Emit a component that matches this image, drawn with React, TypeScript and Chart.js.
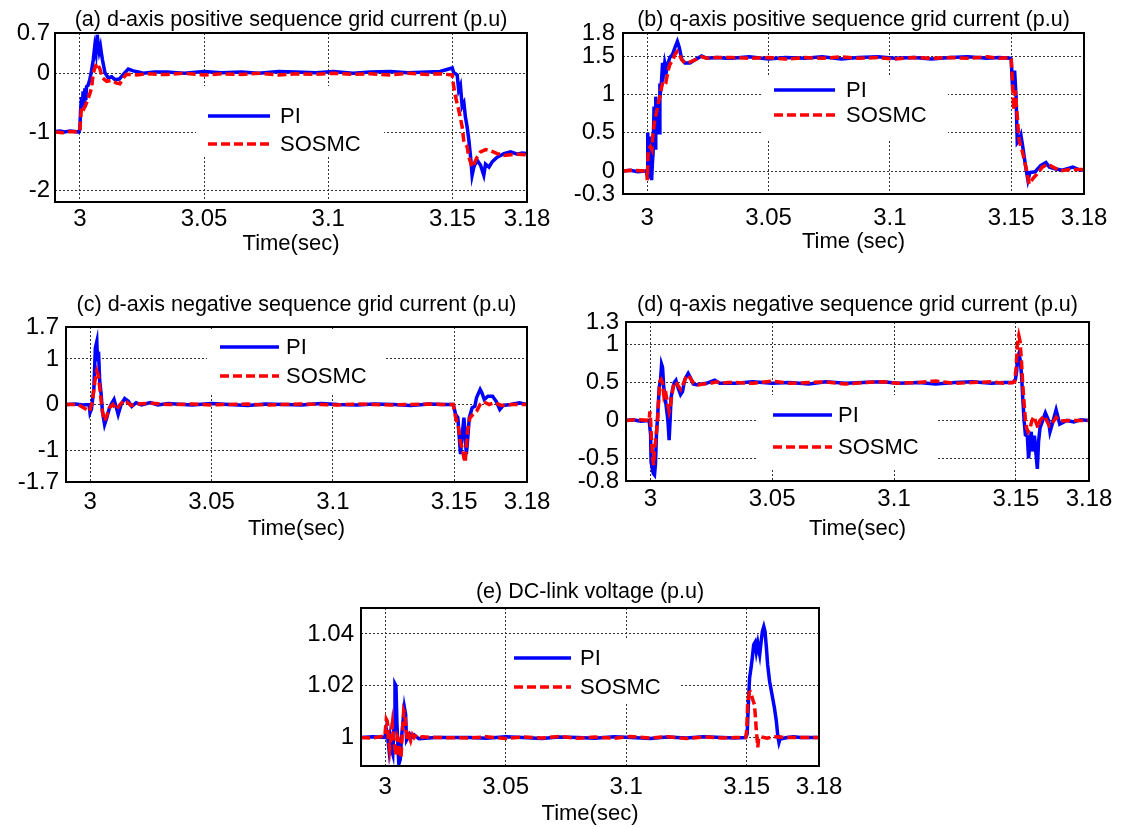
import React, { useEffect, useRef } from "react";
import { Chart, registerables } from "chart.js";

Chart.register(...registerables);

const FONT = "'Liberation Sans', Arial, Helvetica, sans-serif";

// ---- shared axis data ----
const X_TICKS = [3, 3.05, 3.1, 3.15, 3.18];
const STEADY_T = [3.035, 3.042, 3.05, 3.057, 3.065, 3.072, 3.08, 3.087, 3.095, 3.102, 3.11, 3.117, 3.125, 3.132, 3.14, 3.145];

// ---- (a) d-axis positive sequence ----
const A_Y_TICKS = [-2, -1, 0, 0.7];
const A_PI_START_T = [2.99, 2.992, 2.994, 2.996, 2.998, 2.9996, 3.0, 3.0003, 3.0007, 3.001, 3.0013, 3.0017, 3.002, 3.0024, 3.0027, 3.0033, 3.004, 3.0047, 3.0054, 3.006, 3.0065, 3.007, 3.0074, 3.0078, 3.0083, 3.0087, 3.0091, 3.0101, 3.0114, 3.0128, 3.0141, 3.0159, 3.0175, 3.0195, 3.0215, 3.0235, 3.0255, 3.03];
const A_PI_START_V = [-0.99, -0.98, -1.0, -0.98, -0.99, -1.0, -0.95, -0.62, -0.4, -0.58, -0.3, -0.55, -0.25, -0.45, -0.22, -0.2, -0.1, 0.05, 0.24, 0.47, 0.35, 0.67, 0.5, 0.38, 0.47, 0.35, 0.24, 0.02, -0.07, -0.05, -0.1, -0.09, -0.01, 0.08, 0.05, 0.03, 0.01, 0.03];
const A_PI_STEADY = [0.03, 0.01, 0.04, 0.02, 0.03, 0.01, 0.04, 0.03, 0.02, 0.04, 0.01, 0.03, 0.04, 0.02, 0.03, 0.04];
const A_PI_END_T = [3.1499, 3.1505, 3.1512, 3.1519, 3.1525, 3.1532, 3.1539, 3.1546, 3.1552, 3.1559, 3.1566, 3.1573, 3.1579, 3.1586, 3.1599, 3.1613, 3.1626, 3.1633, 3.1647, 3.166, 3.168, 3.1707, 3.1734, 3.1761, 3.178, 3.18];
const A_PI_END_V = [0.1, 0.02, 0.0, -0.02, -0.28, -0.2, -0.56, -0.5, -0.74, -0.91, -1.14, -1.43, -1.74, -1.6, -1.48, -1.57, -1.74, -1.55, -1.6, -1.51, -1.43, -1.37, -1.34, -1.38, -1.36, -1.37];
const A_SM_START_T = [2.99, 2.993, 2.996, 2.9995, 3.0, 3.0003, 3.0007, 3.0016, 3.0024, 3.0034, 3.0047, 3.0054, 3.0063, 3.007, 3.0081, 3.0091, 3.0108, 3.0128, 3.0148, 3.0161, 3.0175, 3.0188, 3.0229, 3.0269, 3.031];
const A_SM_START_V = [-1.0, -1.01, -0.99, -1.0, -0.98, -0.79, -0.56, -0.6, -0.53, -0.42, -0.25, 0.01, 0.13, 0.18, 0.08, -0.07, -0.13, -0.11, -0.16, -0.17, -0.07, -0.01, -0.02, 0.0, -0.01];
const A_SM_STEADY = [-0.01, 0.01, -0.02, 0.0, -0.01, 0.01, -0.02, 0.0, -0.01, 0.01, -0.01, 0.0, -0.02, 0.01, -0.01, 0.0];
const A_SM_END_T = [3.1499, 3.1505, 3.1512, 3.1525, 3.1532, 3.1539, 3.1546, 3.1552, 3.1559, 3.1566, 3.1579, 3.1586, 3.1599, 3.1613, 3.1633, 3.1653, 3.168, 3.1707, 3.1734, 3.1761, 3.18];
const A_SM_END_V = [-0.02, -0.22, -0.39, -0.62, -0.76, -0.91, -1.17, -1.2, -1.25, -1.43, -1.6, -1.55, -1.43, -1.34, -1.3, -1.32, -1.37, -1.4, -1.39, -1.38, -1.39];

// ---- (b) q-axis positive sequence ----
const B_Y_TICKS = [-0.3, 0, 0.5, 1, 1.5, 1.8];
const B_PI_START_T = [2.99, 2.993, 2.996, 2.9997, 3.0, 3.0002, 3.0005, 3.0008, 3.0011, 3.0015, 3.0018, 3.0021, 3.0024, 3.0028, 3.0032, 3.0035, 3.0038, 3.0041, 3.0045, 3.0049, 3.0052, 3.0055, 3.0059, 3.0063, 3.0068, 3.0072, 3.0079, 3.0086, 3.0093, 3.0104, 3.0114, 3.0124, 3.0132, 3.0142, 3.0155, 3.0176, 3.0197, 3.0224, 3.0245, 3.0287, 3.0325];
const B_PI_START_V = [0.0, 0.01, -0.01, 0.0, -0.06, 0.5, 0.1, 0.45, -0.1, 0.2, -0.12, 0.1, 0.23, 0.84, 0.3, 0.97, 0.6, 0.5, 0.87, 0.5, 1.14, 1.05, 1.18, 1.41, 1.3, 1.41, 1.3, 1.41, 1.48, 1.52, 1.61, 1.69, 1.61, 1.46, 1.41, 1.41, 1.45, 1.5, 1.47, 1.48, 1.47];
const B_PI_STEADY = [1.47, 1.49, 1.46, 1.48, 1.47, 1.49, 1.46, 1.48, 1.49, 1.47, 1.48, 1.46, 1.48, 1.49, 1.47, 1.48];
const B_PI_END_T = [3.1495, 3.15, 3.1506, 3.1511, 3.1514, 3.152, 3.1525, 3.1532, 3.154, 3.1547, 3.1559, 3.1569, 3.1577, 3.1599, 3.1621, 3.1643, 3.1658, 3.168, 3.171, 3.1754, 3.1776, 3.18];
const B_PI_END_V = [1.47, 1.46, 1.05, 1.2, 1.31, 0.97, 0.37, 0.4, 0.47, 0.33, 0.07, -0.12, -0.02, -0.01, 0.07, 0.11, 0.05, 0.03, 0.01, 0.05, 0.02, 0.01];
const B_SM_START_T = [2.99, 2.994, 2.9998, 3.0, 3.0004, 3.0013, 3.0019, 3.0024, 3.0031, 3.0038, 3.0045, 3.0052, 3.0059, 3.0066, 3.0077, 3.0086, 3.0093, 3.0104, 3.0114, 3.0124, 3.0132, 3.0142, 3.0155, 3.0176, 3.0197, 3.0224, 3.0245, 3.0287, 3.033];
const B_SM_START_V = [0.0, 0.01, 0.0, -0.12, 0.28, 0.32, 0.28, 0.5, 0.67, 0.76, 0.88, 0.97, 1.09, 1.18, 1.16, 1.31, 1.39, 1.44, 1.52, 1.56, 1.52, 1.45, 1.41, 1.42, 1.45, 1.49, 1.47, 1.48, 1.48];
const B_SM_STEADY = [1.48, 1.47, 1.48, 1.46, 1.48, 1.47, 1.49, 1.47, 1.48, 1.46, 1.48, 1.47, 1.48, 1.47, 1.49, 1.47];
const B_SM_END_T = [3.1495, 3.15, 3.1506, 3.151, 3.1517, 3.1525, 3.1532, 3.1547, 3.1562, 3.1574, 3.1589, 3.1606, 3.1628, 3.1651, 3.1673, 3.1703, 3.1739, 3.18];
const B_SM_END_V = [1.48, 1.46, 1.14, 0.8, 1.05, 0.71, 0.41, 0.24, 0.03, -0.17, -0.1, -0.04, 0.05, 0.09, 0.05, 0.0, 0.02, 0.02];

// ---- (c) d-axis negative sequence ----
const C_Y_TICKS = [-1.7, -1, 0, 1, 1.7];
const C_PI_START_T = [2.99, 2.994, 2.997, 2.9995, 2.9999, 3.0005, 3.0015, 3.0021, 3.0027, 3.003, 3.0034, 3.0039, 3.0045, 3.005, 3.0059, 3.0068, 3.0079, 3.0089, 3.0098, 3.0108, 3.0115, 3.0127, 3.0142, 3.0157, 3.0171, 3.0189, 3.0211, 3.0248, 3.0278, 3.0322];
const C_PI_START_V = [0.0, 0.01, -0.01, 0.0, -0.18, -0.1, 0.36, 1.24, 1.38, 0.95, 1.16, 0.51, 0.22, -0.15, -0.44, -0.29, -0.08, 0.03, 0.11, -0.08, -0.22, 0.0, 0.13, 0.07, -0.04, 0.04, -0.01, 0.04, -0.01, 0.02];
const C_PI_STEADY = [0.01, -0.01, 0.02, 0.0, -0.02, 0.01, 0.0, -0.01, 0.02, 0.0, -0.01, 0.01, 0.0, -0.02, 0.01, 0.0];
const C_PI_END_T = [3.1496, 3.1506, 3.1515, 3.1521, 3.1526, 3.1533, 3.154, 3.1545, 3.155, 3.1555, 3.1562, 3.1574, 3.1585, 3.1592, 3.1607, 3.1614, 3.1624, 3.1639, 3.1658, 3.1673, 3.1688, 3.1702, 3.1732, 3.1769, 3.18];
const C_PI_END_V = [0.0, -0.22, -0.29, -0.73, -1.09, -0.66, -0.29, -0.66, -1.09, -0.8, -0.29, -0.07, -0.04, 0.15, 0.33, 0.26, 0.11, 0.18, 0.18, 0.07, -0.11, -0.02, 0.0, 0.04, 0.0];
const C_SM_START_T = [2.99, 2.995, 2.9997, 3.0009, 3.0019, 3.0027, 3.0034, 3.0042, 3.005, 3.0059, 3.0068, 3.0079, 3.0093, 3.0108, 3.0123, 3.0138, 3.0152, 3.0167, 3.0189, 3.0248, 3.032];
const C_SM_START_V = [0.0, 0.0, -0.15, 0.07, 0.51, 0.73, 0.62, 0.22, -0.15, -0.36, -0.25, -0.07, 0.0, -0.11, 0.0, 0.09, 0.05, -0.02, 0.01, 0.03, 0.0];
const C_SM_STEADY = [0.0, 0.01, -0.01, 0.0, 0.01, -0.01, 0.0, 0.01, 0.0, -0.01, 0.01, 0.0, -0.01, 0.0, 0.01, 0.0];
const C_SM_END_T = [3.1496, 3.1506, 3.1518, 3.1526, 3.1533, 3.154, 3.1545, 3.155, 3.1555, 3.1565, 3.1577, 3.1592, 3.1607, 3.1621, 3.1644, 3.1666, 3.1695, 3.174, 3.18];
const C_SM_END_V = [0.0, -0.29, -0.51, -0.84, -0.95, -1.17, -1.27, -0.95, -0.58, -0.29, -0.22, -0.15, 0.0, 0.06, 0.0, 0.04, -0.02, 0.0, 0.0];

// ---- (d) q-axis negative sequence ----
const D_Y_TICKS = [-0.8, -0.5, 0, 0.5, 1, 1.3];
const D_PI_START_T = [2.99, 2.993, 2.996, 2.9995, 3.0001, 3.0003, 3.0008, 3.0012, 3.0017, 3.0021, 3.0025, 3.0031, 3.0036, 3.0042, 3.0046, 3.005, 3.0055, 3.0061, 3.0066, 3.0072, 3.0077, 3.0081, 3.0085, 3.0091, 3.0098, 3.0105, 3.0114, 3.0124, 3.0132, 3.0141, 3.0155, 3.0165, 3.0176, 3.0189, 3.021, 3.023, 3.0264, 3.0285, 3.0312];
const D_PI_START_V = [0.0, 0.01, -0.01, 0.0, -0.19, -0.55, -0.64, -0.7, -0.72, -0.57, -0.19, 0.12, 0.43, 0.54, 0.74, 0.7, 0.43, 0.3, 0.16, 0.0, -0.26, 0.0, 0.3, 0.41, 0.5, 0.53, 0.43, 0.34, 0.38, 0.54, 0.62, 0.56, 0.48, 0.47, 0.48, 0.49, 0.53, 0.49, 0.49];
const D_PI_STEADY = [0.49, 0.51, 0.49, 0.5, 0.48, 0.51, 0.49, 0.5, 0.51, 0.49, 0.5, 0.48, 0.5, 0.51, 0.49, 0.5];
const D_PI_END_T = [3.1487, 3.1498, 3.1503, 3.1507, 3.1512, 3.1517, 3.1523, 3.1528, 3.1534, 3.1539, 3.1547, 3.1552, 3.1558, 3.1563, 3.1569, 3.1576, 3.1583, 3.1588, 3.1593, 3.1599, 3.161, 3.1621, 3.1634, 3.164, 3.1648, 3.1665, 3.168, 3.1709, 3.1738, 3.1767, 3.18];
const D_PI_END_V = [0.5, 0.54, 0.65, 0.83, 0.88, 0.81, 0.61, 0.3, -0.01, -0.19, -0.21, -0.5, -0.28, -0.15, -0.41, -0.2, -0.46, -0.64, -0.28, -0.1, 0.0, 0.1, 0.0, -0.15, -0.06, 0.14, -0.05, 0.0, -0.02, 0.01, 0.0];
const D_SM_START_T = [2.99, 2.994, 2.9995, 2.9998, 3.0001, 3.0005, 3.0009, 3.0013, 3.0017, 3.0021, 3.0025, 3.003, 3.0033, 3.0039, 3.0044, 3.005, 3.0055, 3.0061, 3.0069, 3.0077, 3.0083, 3.0088, 3.0096, 3.0105, 3.0114, 3.0124, 3.0135, 3.0146, 3.0155, 3.0165, 3.0178, 3.0196, 3.0217, 3.0244, 3.0271, 3.0292, 3.0315];
const D_SM_START_V = [0.0, 0.01, 0.0, 0.12, 0.0, -0.28, -0.46, -0.59, -0.39, -0.28, -0.15, 0.03, 0.21, 0.52, 0.54, 0.49, 0.34, 0.41, 0.25, 0.12, 0.21, 0.33, 0.48, 0.51, 0.46, 0.41, 0.48, 0.57, 0.6, 0.55, 0.49, 0.47, 0.48, 0.49, 0.51, 0.49, 0.5];
const D_SM_STEADY = [0.5, 0.49, 0.52, 0.49, 0.5, 0.51, 0.48, 0.5, 0.51, 0.49, 0.5, 0.52, 0.49, 0.5, 0.51, 0.49];
const D_SM_END_T = [3.1487, 3.1495, 3.1501, 3.1506, 3.1512, 3.1517, 3.1523, 3.1528, 3.1534, 3.1539, 3.1544, 3.155, 3.1558, 3.1566, 3.1574, 3.1583, 3.1591, 3.1599, 3.1607, 3.1617, 3.1626, 3.1637, 3.1651, 3.1665, 3.168, 3.172, 3.18];
const D_SM_END_V = [0.5, 0.51, 0.7, 1.01, 1.12, 1.05, 0.77, 0.48, 0.21, 0.01, -0.1, -0.15, -0.1, 0.0, 0.05, -0.03, -0.1, 0.0, 0.03, 0.06, 0.0, -0.07, -0.03, 0.04, -0.01, 0.0, 0.0];

// ---- (e) DC-link voltage ----
const E_Y_TICKS = [1, 1.02, 1.04];
const E_PI_START_T = [2.99, 2.995, 2.9999, 3.0005, 3.001, 3.0016, 3.0021, 3.0027, 3.0032, 3.0037, 3.0041, 3.0045, 3.0049, 3.0053, 3.0057, 3.0063, 3.0068, 3.0074, 3.008, 3.0085, 3.0089, 3.0095, 3.0102, 3.011, 3.012, 3.014, 3.0209];
const E_PI_START_V = [1.0, 1.0003, 1.0, 1.0032, 1.0007, 0.9955, 1.0, 0.9952, 0.9935, 1.0058, 1.0207, 1.02, 1.0058, 0.9968, 0.9897, 0.9916, 1.0, 1.0058, 1.0116, 1.009, 0.999, 1.0, 1.0013, 1.0, 1.001, 0.9995, 1.0];
const E_PI_STEADY = [1.0, 0.9997, 1.0003, 1.0, 0.9996, 1.0002, 1.0, 0.9997, 1.0003, 1.0, 0.9996, 1.0002, 0.9998, 1.0003, 1.0, 0.9998];
const E_PI_END_T = [3.1495, 3.1502, 3.1507, 3.1512, 3.1518, 3.1524, 3.1529, 3.1535, 3.154, 3.1546, 3.155, 3.1554, 3.156, 3.1565, 3.1571, 3.1576, 3.1582, 3.1587, 3.1595, 3.1605, 3.1615, 3.1623, 3.1629, 3.1634, 3.164, 3.1647, 3.1668, 3.1695, 3.1723, 3.18];
const E_PI_END_V = [1.0, 1.0013, 1.0128, 1.023, 1.0268, 1.0313, 1.0358, 1.0368, 1.0332, 1.0364, 1.034, 1.032, 1.037, 1.0409, 1.0428, 1.041, 1.0345, 1.0281, 1.0217, 1.0166, 1.0115, 1.0064, 1.0006, 0.9981, 1.0, 0.9996, 1.0, 1.0003, 1.0, 1.0];
const E_SM_START_T = [2.99, 2.995, 2.9999, 3.0005, 3.0009, 3.0013, 3.0019, 3.0024, 3.003, 3.0035, 3.0041, 3.0046, 3.0052, 3.0057, 3.0061, 3.0066, 3.0071, 3.0077, 3.0082, 3.0088, 3.0093, 3.0099, 3.0106, 3.0113, 3.012, 3.0126, 3.014, 3.0154, 3.0209];
const E_SM_START_V = [1.0, 0.9998, 1.0006, 1.0071, 1.0064, 1.0, 0.9955, 1.0, 1.0052, 1.0006, 0.9955, 0.9929, 1.0, 0.9987, 0.994, 0.9922, 1.0006, 1.0103, 1.009, 1.002, 0.9987, 1.0006, 0.9987, 1.001, 0.9999, 1.0006, 0.9997, 1.0003, 1.0];
const E_SM_STEADY = [0.9998, 1.0003, 0.9996, 1.0002, 0.9998, 1.0004, 0.9997, 1.0002, 0.9997, 1.0004, 0.9998, 1.0003, 0.9996, 1.0002, 0.9998, 1.0];
const E_SM_END_T = [3.1496, 3.15, 3.1504, 3.151, 3.1515, 3.1521, 3.1527, 3.1532, 3.1536, 3.154, 3.1546, 3.155, 3.1557, 3.1585, 3.1612, 3.1668, 3.1723, 3.18];
const E_SM_END_V = [1.0, 1.0026, 1.0128, 1.0173, 1.0176, 1.016, 1.0141, 1.0128, 1.0083, 1.0026, 0.9962, 1.0, 1.0003, 0.9997, 1.0003, 1.0, 1.0, 1.0];

// ---- helpers ----
function zip(t: number[], v: number[]) {
  return t.map((x, i) => ({ x, y: v[i] }));
}
function series(st: number[], sv: number[], steady: number[], et: number[], ev: number[]) {
  return [...zip(st, sv), ...zip(STEADY_T, steady), ...zip(et, ev)];
}

type PanelCfg = {
  title: string;
  xTitle: string;
  L: number; T: number; R: number; B: number;
  yMin: number; yMax: number; yTicks: number[];
  titleGap: number; tickPad: number; xH: number; yPad: number;
  pi: { x: number; y: number }[];
  sm: { x: number; y: number }[];
  legend: { box: number[]; rows: number[]; line: number[]; text: number };
};

const PANELS: PanelCfg[] = [
  {
    title: "(a) d-axis positive sequence grid current (p.u)", xTitle: "Time(sec)",
    L: 55, T: 33, R: 527, B: 202, yMin: -2.2, yMax: 0.7, yTicks: A_Y_TICKS,
    titleGap: 13, tickPad: 3, xH: 55, yPad: 5,
    pi: series(A_PI_START_T, A_PI_START_V, A_PI_STEADY, A_PI_END_T, A_PI_END_V),
    sm: series(A_SM_START_T, A_SM_START_V, A_SM_STEADY, A_SM_END_T, A_SM_END_V),
    legend: { box: [196, 86, 384, 157], rows: [116, 144], line: [208, 270], text: 280 },
  },
  {
    title: "(b) q-axis positive sequence grid current (p.u)", xTitle: "Time (sec)",
    L: 623, T: 33, R: 1084, B: 194, yMin: -0.3, yMax: 1.8, yTicks: B_Y_TICKS,
    titleGap: 13, tickPad: 10, xH: 61, yPad: 8,
    pi: series(B_PI_START_T, B_PI_START_V, B_PI_STEADY, B_PI_END_T, B_PI_END_V),
    sm: series(B_SM_START_T, B_SM_START_V, B_SM_STEADY, B_SM_END_T, B_SM_END_V),
    legend: { box: [761, 75, 948, 140], rows: [90, 115], line: [774, 835], text: 846 },
  },
  {
    title: "(c) d-axis negative sequence grid current (p.u)", xTitle: "Time(sec)",
    L: 66, T: 327, R: 527, B: 482, yMin: -1.7, yMax: 1.7, yTicks: C_Y_TICKS,
    titleGap: 22, tickPad: 6, xH: 60, yPad: 7,
    pi: series(C_PI_START_T, C_PI_START_V, C_PI_STEADY, C_PI_END_T, C_PI_END_V),
    sm: series(C_SM_START_T, C_SM_START_V, C_SM_STEADY, C_SM_END_T, C_SM_END_V),
    legend: { box: [207, 331, 386, 395], rows: [347, 376], line: [220, 279], text: 286 },
  },
  {
    title: "(d) q-axis negative sequence grid current (p.u)", xTitle: "Time(sec)",
    L: 626, T: 322, R: 1089, B: 481, yMin: -0.8, yMax: 1.3, yTicks: D_Y_TICKS,
    titleGap: 17, tickPad: 4, xH: 61, yPad: 7,
    pi: series(D_PI_START_T, D_PI_START_V, D_PI_STEADY, D_PI_END_T, D_PI_END_V),
    sm: series(D_SM_START_T, D_SM_START_V, D_SM_STEADY, D_SM_END_T, D_SM_END_V),
    legend: { box: [758, 395, 937, 470], rows: [415, 447], line: [773, 832], text: 838 },
  },
  {
    title: "(e) DC-link voltage (p.u)", xTitle: "Time(sec)",
    L: 361, T: 608, R: 819, B: 766, yMin: 0.989, yMax: 1.05, yTicks: E_Y_TICKS,
    titleGap: 16, tickPad: 7, xH: 61, yPad: 7,
    pi: series(E_PI_START_T, E_PI_START_V, E_PI_STEADY, E_PI_END_T, E_PI_END_V),
    sm: series(E_SM_START_T, E_SM_START_V, E_SM_STEADY, E_SM_END_T, E_SM_END_V),
    legend: { box: [509, 640, 680, 702], rows: [658, 687], line: [514, 571], text: 580 },
  },
];

const Y_AXIS_W = 55;
const RIGHT_PAD = 55;
const TOP_PAD = 34;
const TITLE_SIZE = 21.5;
const TICK_SIZE = 24;
const AXIS_TITLE_SIZE = 22;
const LEGEND_SIZE = 22;

function Panel({ cfg }: { cfg: PanelCfg }) {
  const ref = useRef<HTMLCanvasElement | null>(null);
  const left = cfg.L - Y_AXIS_W;
  const top = cfg.T - TOP_PAD;
  const width = cfg.R - cfg.L + Y_AXIS_W + RIGHT_PAD;
  const height = TOP_PAD + (cfg.B - cfg.T) + cfg.xH;

  useEffect(() => {
    if (!ref.current) return;
    const lg = cfg.legend;
    const overlay = {
      id: "matlabOverlay",
      afterDatasetsDraw(chart: any) {
        const { ctx, chartArea } = chart;
        const ox = chartArea.left - cfg.L;
        const oy = chartArea.top - cfg.T;
        ctx.save();
        // legend box
        ctx.fillStyle = "#ffffff";
        ctx.fillRect(lg.box[0] + ox, lg.box[1] + oy, lg.box[2] - lg.box[0], lg.box[3] - lg.box[1]);
        chart.data.datasets.forEach((ds: any, i: number) => {
          const y = lg.rows[i] + oy;
          ctx.strokeStyle = ds.borderColor;
          ctx.lineWidth = ds.borderWidth;
          ctx.setLineDash(ds.borderDash || []);
          ctx.beginPath();
          ctx.moveTo(lg.line[0] + ox, y);
          ctx.lineTo(lg.line[1] + ox, y);
          ctx.stroke();
          ctx.setLineDash([]);
          ctx.fillStyle = "#000";
          ctx.font = `${LEGEND_SIZE}px ${FONT}`;
          ctx.textBaseline = "middle";
          ctx.textAlign = "left";
          ctx.fillText(ds.label, lg.text + ox, y + 1);
        });
        // plot frame
        ctx.strokeStyle = "#000";
        ctx.lineWidth = 2;
        ctx.strokeRect(chartArea.left, chartArea.top, chartArea.right - chartArea.left, chartArea.bottom - chartArea.top);
        // title centred over the plot area
        ctx.fillStyle = "#000";
        ctx.font = `${TITLE_SIZE}px ${FONT}`;
        ctx.textAlign = "center";
        ctx.textBaseline = "middle";
        ctx.fillText(cfg.title, (chartArea.left + chartArea.right) / 2, chartArea.top - cfg.titleGap);
        ctx.restore();
      },
    };

    const gridOpts = { color: "#333333", lineWidth: 1, drawTicks: false };
    const chart = new Chart(ref.current, {
      type: "line",
      data: {
        datasets: [
          {
            label: "PI", data: cfg.pi, borderColor: "#0000ff", borderWidth: 3.5,
            pointRadius: 0, tension: 0, order: 1, fill: false,
          },
          {
            label: "SOSMC", data: cfg.sm, borderColor: "#ff0000", borderWidth: 3.5,
            borderDash: [9, 4], pointRadius: 0, tension: 0, order: 0, fill: false,
          },
        ],
      },
      options: {
        animation: false,
        responsive: false,
        events: [],
        layout: { padding: { left: 0, right: RIGHT_PAD, top: TOP_PAD, bottom: 0 } },
        plugins: {
          legend: { display: false },
          tooltip: { enabled: false },
          title: { display: false },
        },
        scales: {
          x: {
            type: "linear", min: 2.99, max: 3.18,
            afterBuildTicks: (ax: any) => { ax.ticks = X_TICKS.map((v) => ({ value: v })); },
            afterFit: (ax: any) => { ax.height = cfg.xH; },
            ticks: {
              autoSkip: false, maxRotation: 0, padding: cfg.tickPad, color: "#000",
              font: { family: FONT, size: TICK_SIZE }, callback: (v: any) => String(v),
            },
            grid: gridOpts,
            border: { display: false, dash: [2, 2] },
            title: { display: true, text: cfg.xTitle, color: "#000", font: { family: FONT, size: AXIS_TITLE_SIZE }, padding: 0 },
          },
          y: {
            type: "linear", min: cfg.yMin, max: cfg.yMax,
            afterBuildTicks: (ax: any) => { ax.ticks = cfg.yTicks.map((v) => ({ value: v })); },
            afterFit: (ax: any) => { ax.width = Y_AXIS_W; },
            ticks: {
              autoSkip: false, padding: cfg.yPad, color: "#000",
              font: { family: FONT, size: TICK_SIZE }, callback: (v: any) => String(v),
            },
            grid: gridOpts,
            border: { display: false, dash: [2, 2] },
          },
        },
      } as any,
      plugins: [overlay],
    });
    return () => chart.destroy();
  }, [cfg]);

  return (
    <canvas
      ref={ref}
      width={width}
      height={height}
      style={{ position: "absolute", left, top, width, height }}
    />
  );
}

export default function App() {
  return (
    <div style={{ position: "absolute", left: 0, top: 0, width: 1123, height: 827, background: "#fff" }}>
      {PANELS.map((p, i) => (
        <Panel key={i} cfg={p} />
      ))}
    </div>
  );
}
